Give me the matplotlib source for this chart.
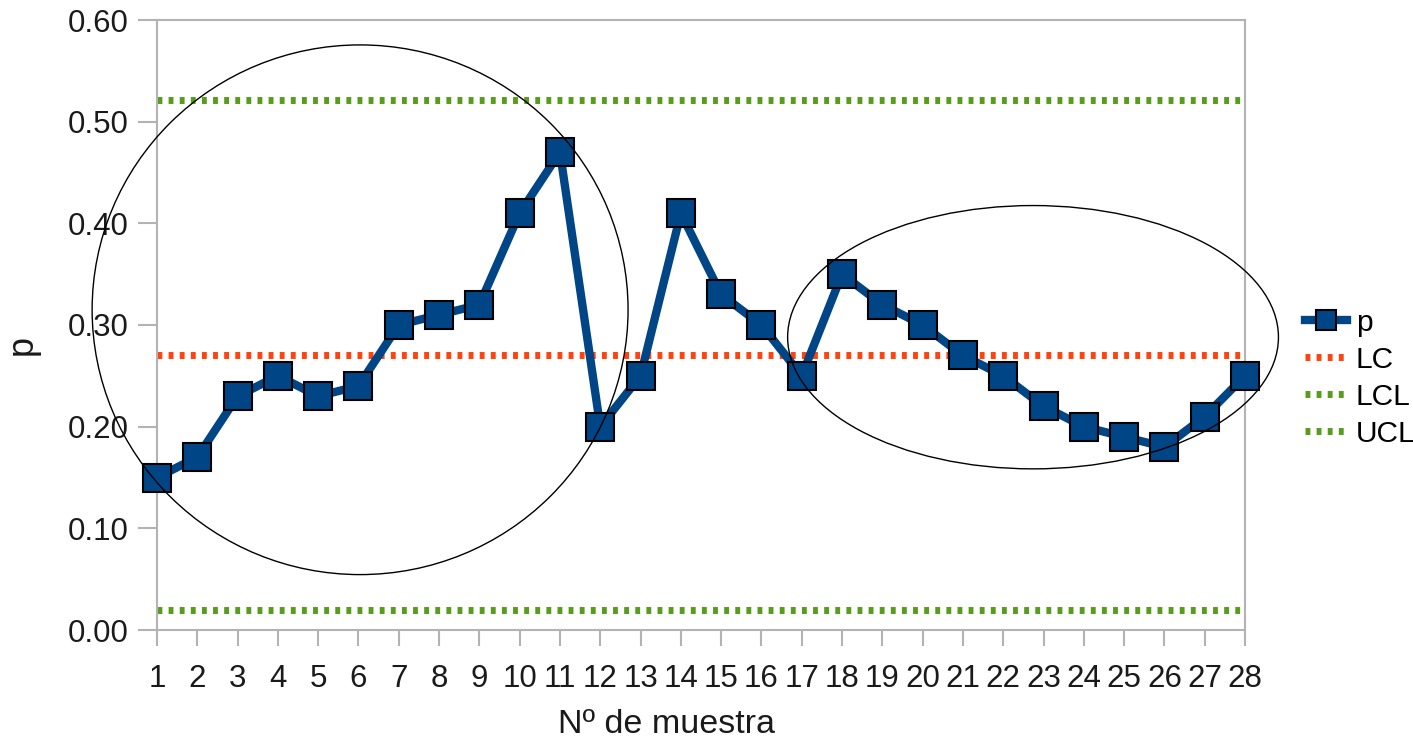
import matplotlib
matplotlib.use("Agg")
import matplotlib.pyplot as plt
from matplotlib.patches import Ellipse

plt.rcParams['font.family'] = ['Liberation Sans', 'DejaVu Sans']

samples = list(range(1, 29))
p_values = [0.15, 0.17, 0.23, 0.25, 0.23, 0.24, 0.30, 0.31, 0.32, 0.41,
            0.47, 0.20, 0.25, 0.41, 0.33, 0.30, 0.25, 0.35, 0.32, 0.30,
            0.27, 0.25, 0.22, 0.20, 0.19, 0.18, 0.21, 0.25]
lc_value = 0.27
lcl_value = 0.02
ucl_value = 0.521
y_ticks = [0.0, 0.1, 0.2, 0.3, 0.4, 0.5, 0.6]

blue = '#004586'
orange = '#ff420e'
green = '#579d1c'
grey = '#b3b3b3'
txt = '#1a1a1a'

fig = plt.figure(figsize=(14.13, 7.42), dpi=100)
ax = fig.add_axes([157/1413, 1-630/742, (1245-157)/1413, (630-20)/742])

dash = (0.7, 0.9)
ax.plot(samples, [lc_value]*len(samples), color=orange, lw=5, ls=(0, dash), label='LC', zorder=2)
ax.plot(samples, [lcl_value]*len(samples), color=green, lw=5, ls=(0, dash), label='LCL', zorder=2)
ax.plot(samples, [ucl_value]*len(samples), color=green, lw=5, ls=(0, dash), label='UCL', zorder=2)
ax.plot(samples, p_values, color=blue, lw=6, marker='s', markersize=20,
        markerfacecolor=blue, markeredgecolor='black', markeredgewidth=1.5,
        label='p', zorder=3, clip_on=False)

# annotation ellipses
ax.add_patch(Ellipse((6.04, 0.315), 13.3, 0.521, fill=False, ec='black', lw=1, clip_on=False, zorder=4))
ax.add_patch(Ellipse((22.74, 0.288), 12.18, 0.259, fill=False, ec='black', lw=1, clip_on=False, zorder=4))

ax.set_xlim(1, 28)
ax.set_ylim(0, 0.6)
ax.set_xticks(samples)
ax.set_xticklabels([str(s) for s in samples])
ax.set_yticks(y_ticks)
ax.set_yticklabels([f'{v:.2f}' for v in y_ticks])

for s in ax.spines.values():
    s.set_color(grey)
    s.set_linewidth(1.5)
ax.tick_params(axis='both', colors=grey, width=1.5, labelsize=22.5, labelcolor=txt)
ax.tick_params(axis='x', length=11.5, pad=13)
ax.tick_params(axis='y', length=13.5, pad=7)

ax.set_xlabel('Nº de muestra', fontsize=24.5, color=txt)
ax.set_ylabel('p', fontsize=26, color=txt)
ax.xaxis.set_label_coords(0.468, -0.13)
ax.yaxis.set_label_coords(-0.1075, 0.467)

handles, labels = ax.get_legend_handles_labels()
order = [3, 0, 1, 2]
leg = ax.legend([handles[i] for i in order], [labels[i] for i in order],
                loc='center left', bbox_to_anchor=(1.055, 0.413), frameon=False,
                fontsize=21.5, handlelength=1.4, handletextpad=0.3, labelspacing=0.3,
                borderpad=0, borderaxespad=0, markerscale=0.75)

fig.savefig('out.png', dpi=100)
